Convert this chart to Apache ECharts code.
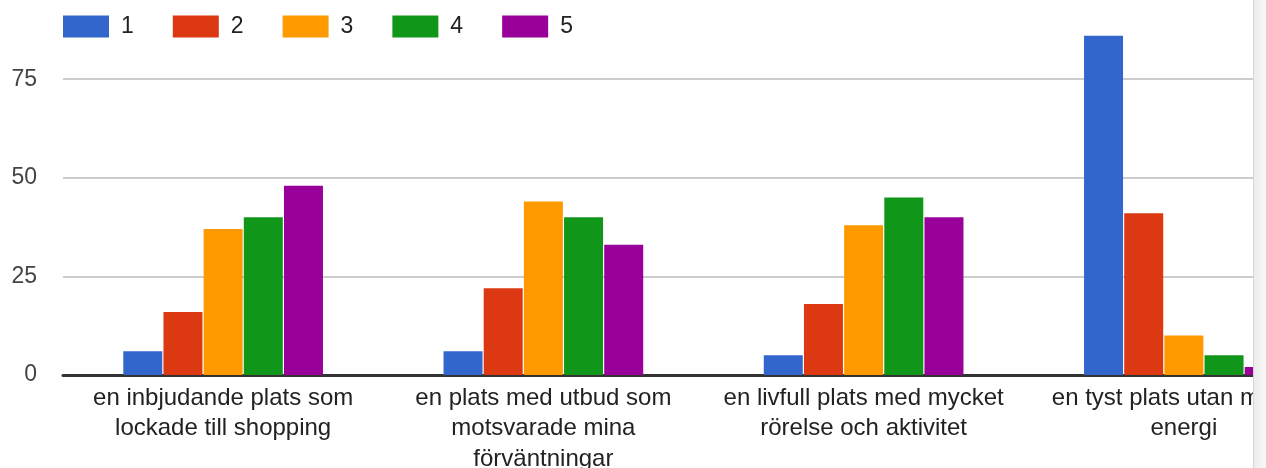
<!DOCTYPE html>
<html>
<head>
<meta charset="utf-8">
<script src="https://cdn.jsdelivr.net/npm/echarts@6/dist/echarts.min.js"></script>
<style>
    html, body { margin: 0; padding: 0; background: #fff; }
    #wrap { position: absolute; left: 0; top: 0; width: 1253px; height: 468px; overflow: hidden; }
    #chart { width: 1400px; height: 468px; }
    #edge { position: absolute; left: 1253px; top: 0; width: 13px; height: 468px;
            border-left: 1px solid #d6d6d6; box-sizing: border-box;
            background: linear-gradient(to right, #ececec, #f8f8f8); }
</style>
</head>
<body>
<div id="wrap"><div id="chart"></div></div>
<div id="edge"></div>
<script>
    // categories (answers) and counts per score 1..5
    let categories = [
        'en inbjudande plats som\nlockade till shopping',
        'en plats med utbud som\nmotsvarade mina\nförväntningar',
        'en livfull plats med mycket\nrörelse och aktivitet',
        'en tyst plats utan mycket\nenergi'
    ];
    let seriesNames = ['1', '2', '3', '4', '5'];
    let score1 = [6, 6, 5, 86];
    let score2 = [16, 22, 18, 41];
    let score3 = [37, 44, 38, 10];
    let score4 = [40, 40, 45, 5];
    let score5 = [48, 33, 40, 2];
    let yTicks = [0, 25, 50, 75, 100];

    let colors = ['#3366cc', '#dc3912', '#ff9900', '#109618', '#990099'];
    let values = [score1, score2, score3, score4, score5];

    let myChart = echarts.init(document.getElementById('chart'));

    let series = seriesNames.map(function(name, i){
        return {
            name: name,
            type: 'bar',
            data: values[i],
            barWidth: 39,
            barGap: '3%',
            itemStyle: { color: colors[i] },
            emphasis: { disabled: true }
        };
    });

    let option = {
        animation: false,
        textStyle: { fontFamily: 'Arial, "Liberation Sans", sans-serif' },
        legend: {
            left: 63,
            top: 15,
            padding: 0,
            itemWidth: 46,
            itemHeight: 22,
            itemGap: 39,
            icon: 'rect',
            textStyle: { fontSize: 23, color: '#222', padding: [2, 0, 0, 7] },
            data: seriesNames
        },
        grid: {
            left: 63,
            right: 56,
            top: -19.4,
            bottom: 93,
            outerBoundsMode: 'none'
        },
        xAxis: {
            type: 'category',
            data: categories,
            axisLine: { lineStyle: { color: '#333', width: 3 } },
            axisTick: { show: false },
            axisLabel: {
                interval: 0,
                fontSize: 24,
                color: '#222',
                lineHeight: 30.5,
                margin: 8
            }
        },
        yAxis: {
            type: 'value',
            min: yTicks[0],
            max: yTicks[yTicks.length - 1],
            interval: 25,
            axisLine: { show: false },
            axisTick: { show: false },
            splitLine: { lineStyle: { color: '#cccccc', width: 2 } },
            axisLabel: {
                fontSize: 23,
                color: '#444',
                margin: 26,
                padding: [7, 0, 0, 0]
            }
        },
        series: series
    };
    myChart.setOption(option);
</script>
</body>
</html>
